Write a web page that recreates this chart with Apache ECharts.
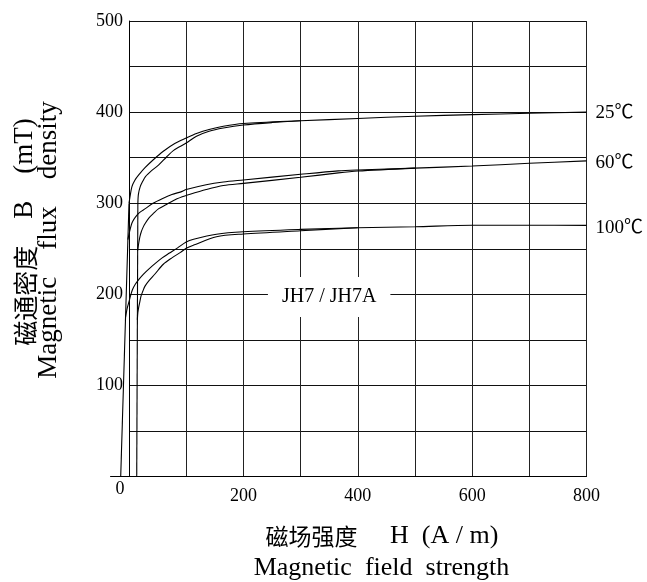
<!DOCTYPE html>
<html>
<head>
<meta charset="utf-8">
<script src="https://cdn.jsdelivr.net/npm/echarts@6/dist/echarts.min.js"></script>
<style>
html,body{margin:0;padding:0;background:#fff;}
#chart{width:647px;height:582px;}
</style>
</head>
<body>
<div id="chart"></div>
<script>
// ---- Data (H in A/m, B in mT) ----
const xTickLabels = [200, 400, 600, 800];
const yTickLabels = [100, 200, 300, 400, 500];
const originLabel = '0';
const tempNames = ['25℃', '60℃', '100℃'];
const materialName = 'JH7 / JH7A';

// shared initial stems
const stemLeft  = [[-14.5, 0], [0, 300]];
const stemRight = [[13.5, 0], [15.5, 300]];

// 25 ℃
const b25Upper = [[0,300],[1.5,306],[5,318],[10,325],[17,331],[28,339],[43,348],[60,357],[80,365.5],[100,371.5],[118,376.5],[140,381],[165,384.5],[200,387.5],[300,390.5],[400,393],[500,395.5],[600,397.2],[700,398.7],[800,400]];
const b25Lower = [[15.5,300],[16.5,310],[19.5,318],[24,324],[28.5,329],[40,336],[52,342],[66,351],[78,358],[100,366],[118,373.5],[140,379],[165,382.5],[200,385.8],[250,388.5],[300,390.5]];

// 60 ℃
const b60Upper = [[-1.9,260],[0,266],[2.3,272],[5,278],[8.2,282],[14,287],[20,290.5],[28.5,294],[42,300],[58,305],[75,309.5],[93,313],[100,315],[135,320.3],[165,323.3],[200,325.5],[300,331.7],[366,335.5],[400,336.5],[500,338.5],[600,340.8],[700,343.8],[800,346.5]];
const b60Lower = [[15,248],[17,256],[19,263],[21.5,268.7],[25,274],[28.5,278],[35,284],[43,289],[52,294],[63.6,298],[78,303],[93,307],[100,308.5],[135,315],[165,319.5],[200,321.8],[300,328.4],[366,333.3],[400,335.3],[500,338.5]];

// 100 ℃
const b100Upper = [[-6,175],[-3,185],[0,192],[3,199],[6,205],[11,211],[18,217],[25,222],[35,228],[46,234],[58,240],[70,245],[85,251],[100,257.5],[113,260.5],[153,266],[200,268.7],[300,271.3],[400,273.1],[500,274.2],[600,275.8],[700,275.8],[800,275.7]];
const b100Lower = [[14.6,172],[15.5,180],[17,186],[19,192],[21,198],[24,203],[28,209],[35,215],[45,222],[60,233],[75,240],[90,246],[100,250.5],[113,254],[153,263.2],[200,266.2],[300,269.8],[400,273.1]];

const SERIF = "'Liberation Serif','Times New Roman','Noto Sans CJK SC',serif";
const CJK = "'Noto Sans CJK SC',sans-serif";
const chart = echarts.init(document.getElementById('chart'), null, {renderer: 'canvas'});

// layout of the visible plot
const G = {left: 129, top: 21, width: 457.5, height: 455.5};
const X_MIN = 0, X_MAX = 800, X_PAD = 40; // hidden data grid reaches to -X_PAD
const pxPerUnit = G.width / (X_MAX - X_MIN);

function lineSeries(data, smooth, endText, endOffset) {
  const s = {
    type: 'line', data: data, showSymbol: false, symbol: 'none', clip: false,
    xAxisIndex: 1, yAxisIndex: 1,
    smooth: smooth, animation: false, silent: true, z: 5,
    lineStyle: {color: '#000', width: 1.1}
  };
  if (endText) {
    s.endLabel = {show: true, formatter: endText, distance: 9, offset: endOffset,
      fontFamily: SERIF, fontSize: 19, color: '#000'};
  }
  return s;
}

const option = {
  animation: false,
  backgroundColor: '#fff',
  grid: [
    {left: G.left, top: G.top, width: G.width, height: G.height, containLabel: false},
    {left: G.left - X_PAD * pxPerUnit, top: G.top, width: G.width + X_PAD * pxPerUnit, height: G.height, containLabel: false}
  ],
  xAxis: [{
    type: 'value', gridIndex: 0, min: X_MIN, max: X_MAX, interval: 100,
    axisLine: {show: true, lineStyle: {color: '#000', width: 1}},
    axisTick: {show: false},
    splitLine: {show: true, lineStyle: {color: '#222', width: 1}},
    axisLabel: {
      margin: 11, fontFamily: SERIF, fontSize: 18, color: '#000',
      formatter: v => xTickLabels.indexOf(v) >= 0 ? String(v) : ''
    }
  }, {
    type: 'value', gridIndex: 1, min: -X_PAD, max: X_MAX, show: false
  }],
  yAxis: [{
    type: 'value', gridIndex: 0, min: 0, max: 500, interval: 50,
    axisLine: {show: true, lineStyle: {color: '#000', width: 1}},
    axisTick: {show: false},
    splitLine: {show: true, lineStyle: {color: '#111', width: 1}},
    axisLabel: {
      margin: 6, fontFamily: SERIF, fontSize: 18, color: '#000',
      formatter: v => yTickLabels.indexOf(v) >= 0 ? String(v) : ''
    }
  }, {
    type: 'value', gridIndex: 1, min: 0, max: 500, show: false
  }],
  series: [
    lineSeries(stemLeft, false),
    lineSeries(stemRight, false),
    lineSeries(b25Upper, 0.3, tempNames[0], [0, 0.5]),
    lineSeries(b25Lower, 0.3),
    lineSeries(b60Upper, 0.3, tempNames[1], [0, 2.5]),
    lineSeries(b60Lower, 0.3),
    lineSeries(b100Upper, 0.3, tempNames[2], [0, 3]),
    lineSeries(b100Lower, 0.3)
  ]
};
chart.setOption(option);

const o = chart.convertToPixel({gridIndex: 0}, [0, 0]);
const ext = chart.convertToPixel({gridIndex: 1}, [-33, 0]);
const lbl = chart.convertToPixel({gridIndex: 0}, [350, 197]);

chart.setOption({
  graphic: [
    {type: 'line', z: 50, shape: {x1: ext[0], y1: o[1], x2: o[0], y2: o[1]},
     style: {stroke: '#000', lineWidth: 1}},
    {type: 'text', z: 50, x: o[0] - 9, y: o[1] + 13,
     style: {text: originLabel, font: "18px " + SERIF, fill: '#000', align: 'center', verticalAlign: 'middle'}},
    {type: 'text', z: 60, x: lbl[0], y: lbl[1],
     style: {text: materialName, font: "20px " + SERIF, fill: '#000', align: 'center', verticalAlign: 'middle',
             backgroundColor: '#fff', padding: [10, 14, 10, 14]}},
    {type: 'text', z: 50, x: 382, y: 536,
     style: {text: '{c|磁场强度}{t|     H  (A / m)}', align: 'center', verticalAlign: 'middle', fill: '#000',
       rich: {c: {fontFamily: CJK, fontSize: 23, fill: '#000'},
              t: {fontFamily: SERIF, fontSize: 26, fill: '#000'}}}},
    {type: 'text', z: 50, x: 381.5, y: 568,
     style: {text: 'Magnetic  field  strength', font: "26px " + SERIF, fill: '#000', align: 'center', verticalAlign: 'middle'}},
    {type: 'text', z: 50, x: 25, y: 232, rotation: Math.PI / 2,
     style: {text: '{c|磁通密度}{t|    B    (mT)}', align: 'center', verticalAlign: 'middle', fill: '#000',
       rich: {c: {fontFamily: CJK, fontSize: 25, fill: '#000'},
              t: {fontFamily: SERIF, fontSize: 27, fill: '#000'}}}},
    {type: 'text', z: 50, x: 49, y: 240, rotation: Math.PI / 2,
     style: {text: 'Magnetic    flux    density', font: "27px " + SERIF, fill: '#000', align: 'center', verticalAlign: 'middle'}}
  ]
});
</script>
</body>
</html>
